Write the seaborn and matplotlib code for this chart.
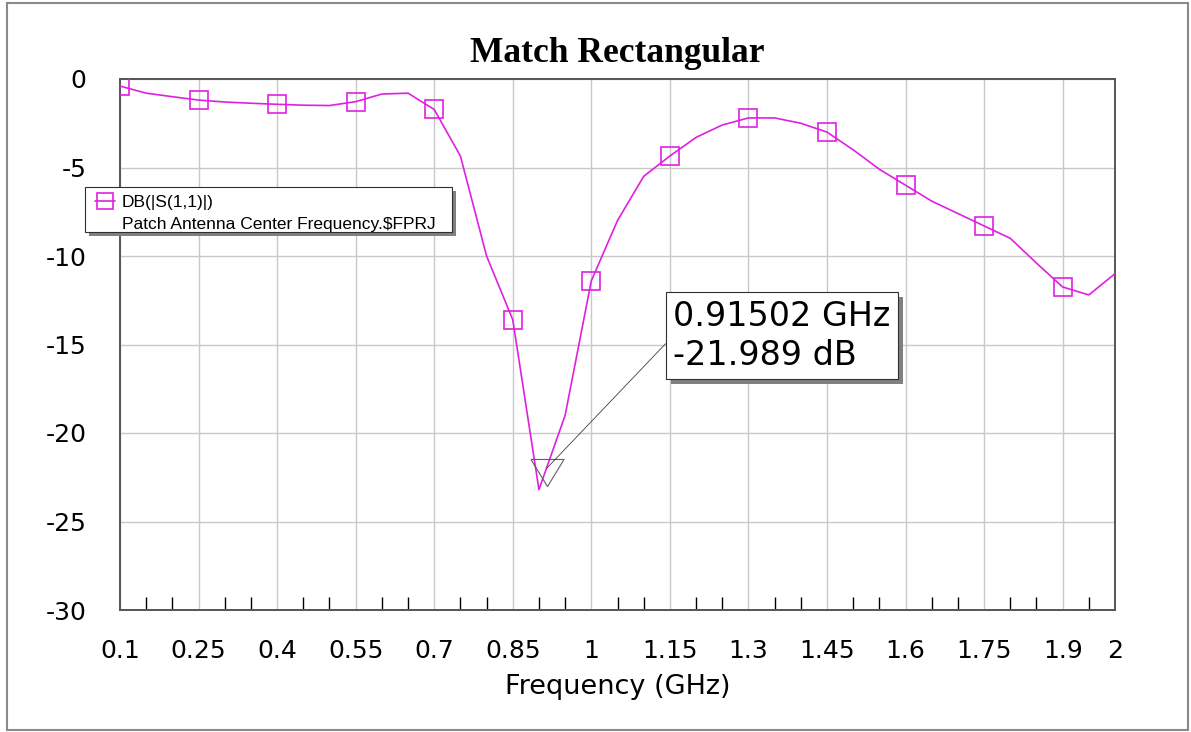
import matplotlib
matplotlib.use("Agg")
import matplotlib.pyplot as plt
import matplotlib.patheffects as pe
import seaborn as sns
from matplotlib.lines import Line2D
from matplotlib.patches import Rectangle
from matplotlib.ticker import FixedLocator, MultipleLocator

# S11 sweep of the patch antenna
freq_ghz = [0.10, 0.15, 0.20, 0.25, 0.30, 0.35, 0.40, 0.45, 0.50, 0.55,
            0.60, 0.65, 0.70, 0.75, 0.80, 0.85, 0.90, 0.95, 1.00, 1.05,
            1.10, 1.15, 1.20, 1.25, 1.30, 1.35, 1.40, 1.45, 1.50, 1.55,
            1.60, 1.65, 1.70, 1.75, 1.80, 1.85, 1.90, 1.95, 2.00]
s11_db = [-0.40, -0.80, -1.00, -1.19, -1.30, -1.37, -1.43, -1.48, -1.50, -1.28,
          -0.85, -0.80, -1.72, -4.35, -10.0, -13.6, -23.2, -19.0, -11.4, -8.0,
          -5.5, -4.35, -3.3, -2.6, -2.2, -2.2, -2.5, -3.0, -4.0, -5.1,
          -6.0, -6.9, -7.6, -8.3, -9.0, -10.4, -11.75, -12.2, -11.0]

# marker readout
marker_freq = 0.91502
marker_db = -21.989

x_ticks = [0.1, 0.25, 0.4, 0.55, 0.7, 0.85, 1.0, 1.15, 1.3, 1.45, 1.6, 1.75, 1.9, 2.0]
x_tick_labels = ["0.1", "0.25", "0.4", "0.55", "0.7", "0.85", "1", "1.15",
                 "1.3", "1.45", "1.6", "1.75", "1.9", "2"]
y_ticks = [0, -5, -10, -15, -20, -25, -30]
y_tick_labels = ["0", "-5", "-10", "-15", "-20", "-25", "-30"]

legend_lines = ["DB(|S(1,1)|)", "Patch Antenna Center Frequency.\\$FPRJ"]

curve_color = "#e020e0"
W, H = 1191, 732

sns.set_style("white")
plt.rcParams["font.family"] = ["DejaVu Sans"]
plt.rcParams["axes.unicode_minus"] = False
plt.rcParams["text.color"] = "black"
plt.rcParams["axes.labelcolor"] = "black"


def fx(px):
    return px / W


def fy(py):
    return 1 - py / H


fig = plt.figure(figsize=(W / 100, H / 100), dpi=100)
ax = fig.add_axes([fx(120), fy(610), fx(1115) - fx(120), fy(79) - fy(610)])

sns.lineplot(x=freq_ghz, y=s11_db, ax=ax, color=curve_color, lw=1.2,
             marker="s", markevery=3, ms=12.5, mfc="none",
             mec=curve_color, mew=1.2, zorder=3)

# marker triangle (apex below the point, like AWR draws it)
tri = [(-16.5, 9), (16.5, 9), (0, -18), (-16.5, 9)]
ax.plot([marker_freq], [marker_db], marker=tri, ms=26, mfc="none",
        mec="#606060", mew=0.8, ls="none", zorder=4)

# readout box with drop shadow
readout = f"{marker_freq:.5f} GHz\n{marker_db:.3f} dB"
ann = ax.annotate(readout, xy=(marker_freq, marker_db), xytext=(1.1565, -14.5),
                  ha="left", va="center", fontsize=24, linespacing=1.22,
                  color="black", zorder=6,
                  bbox=dict(boxstyle="square,pad=0.22", fc="white", ec="#303030", lw=0.8),
                  arrowprops=dict(arrowstyle="-", color="#404040", lw=0.6,
                                  relpos=(0, 0.5), shrinkA=0, shrinkB=0))
ann.get_bbox_patch().set_path_effects([
    pe.SimplePatchShadow(offset=(3.6, -3.6), shadow_rgbFace="#808080", alpha=1.0),
    pe.Normal()])

ax.set_xlim(0.1, 2.0)
ax.set_ylim(-30, 0)
ax.xaxis.set_major_locator(FixedLocator(x_ticks))
ax.set_xticklabels(x_tick_labels)
ax.xaxis.set_minor_locator(MultipleLocator(0.05))
ax.set_yticks(y_ticks)
ax.set_yticklabels(y_tick_labels)
ax.tick_params(axis="both", which="major", length=0, labelsize=18, colors="black")
ax.tick_params(axis="x", which="major", pad=21)
ax.tick_params(axis="y", which="major", pad=24)
ax.tick_params(axis="x", which="minor", bottom=True, direction="in",
               length=9.5, width=1.0, color="black")

ax.set_axisbelow(True)
ax.grid(True, which="major", color="#c8c8c8", lw=1.0)
for sp in ax.spines.values():
    sp.set_color("#555555")
    sp.set_linewidth(1.4)

ax.set_xlabel("Frequency (GHz)", fontsize=19.5, labelpad=8)
ax.set_ylabel("")
ax.set_title("Match Rectangular", fontsize=25.5, fontweight="bold",
             family="Liberation Serif", pad=12, color="black")

# legend box drawn by hand, AWR style with shadow
lx0, ly_top, lx1, ly_bot = 85, 187, 452, 232
fig.patches.append(Rectangle((fx(lx0 + 4), fy(ly_bot + 4)), fx(lx1) - fx(lx0),
                             fy(ly_top) - fy(ly_bot), transform=fig.transFigure,
                             fc="#808080", ec="none", zorder=1))
fig.patches.append(Rectangle((fx(lx0), fy(ly_bot)), fx(lx1) - fx(lx0),
                             fy(ly_top) - fy(ly_bot), transform=fig.transFigure,
                             fc="white", ec="#303030", lw=0.8, zorder=2))
fig.lines.append(Line2D([fx(95), fx(115)], [fy(201), fy(201)], transform=fig.transFigure,
                        color=curve_color, lw=1.2, zorder=3))
fig.lines.append(Line2D([fx(105)], [fy(201)], transform=fig.transFigure,
                        marker="s", ms=11.5, mfc="none", mec=curve_color, mew=1.2,
                        ls="none", zorder=3))
fig.text(fx(122), fy(207.5), legend_lines[0], ha="left", va="baseline",
         fontsize=12.5, family="Liberation Sans", color="black", zorder=3)
fig.text(fx(122), fy(229.5), legend_lines[1], ha="left", va="baseline",
         fontsize=12.5, family="Liberation Sans", color="black", zorder=3)

# outer frame around the whole graph
fig.patches.append(Rectangle((fx(7), fy(730)), fx(1188) - fx(7), fy(3) - fy(730),
                             transform=fig.transFigure, fill=False,
                             ec="#8a8a8a", lw=1.5, zorder=1))

fig.savefig("out.png", dpi=100)
